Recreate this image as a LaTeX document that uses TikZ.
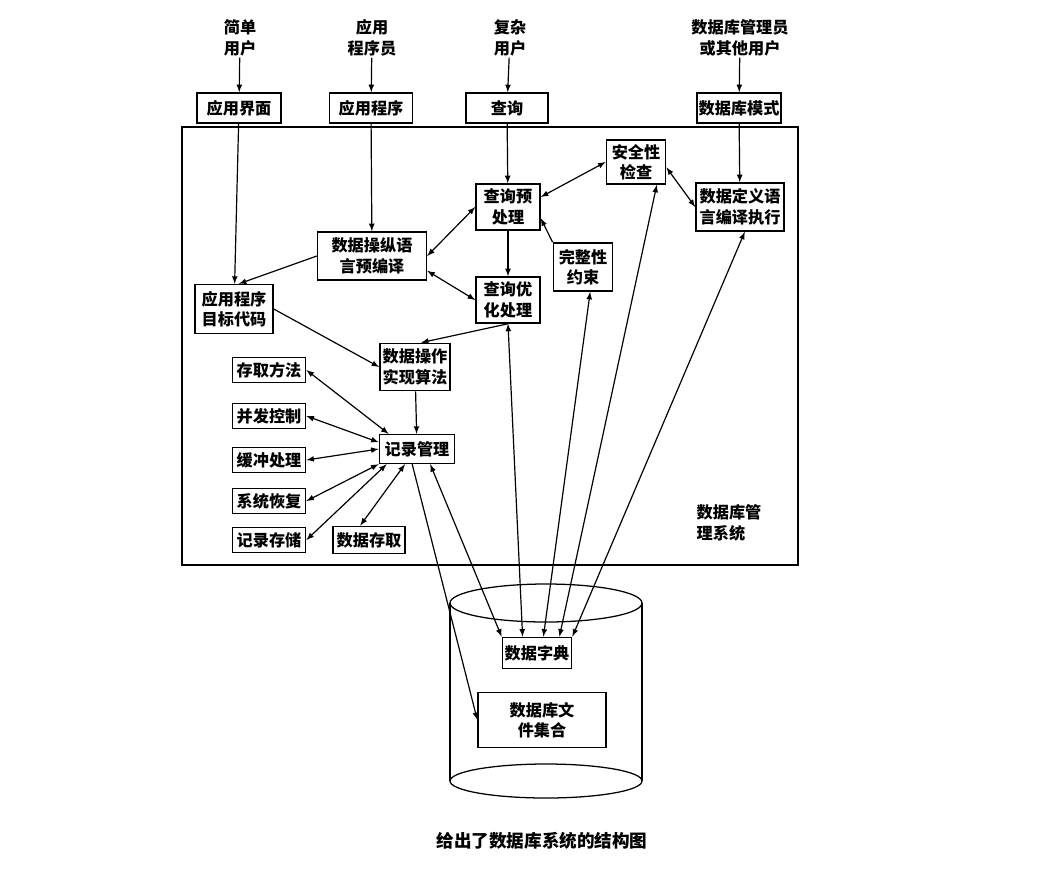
\documentclass[tikz,border=0pt]{standalone}
\usepackage{fontspec}
\setmainfont{Noto Sans CJK SC}
\usepackage{tikz}
\usetikzlibrary{arrows}

\begin{document}
\begin{tikzpicture}[x=0.025cm,y=-0.025cm,>=latex,
  txt/.style={font=\bfseries\fontsize{11.5}{14.5}\selectfont,align=center,inner sep=1pt},
  box/.style={txt,draw=black,line width=1.1pt},
  link/.style={line width=0.85pt},
  wh/.style n args={2}{minimum width=#1cm,minimum height=#2cm}]
\useasboundingbox (0,0) rectangle (1038,871);
\node[txt] (u1) at (240,38) {简单\\用户};
\node[txt] (u2) at (372,38) {应用\\程序员};
\node[txt] (u3) at (510,38) {复杂\\用户};
\node[txt] (u4) at (740,38) {数据库管理员\\或其他用户};
\node[box,wh={2.1}{0.75}] (jiemian) at (239,108) {应用界面};
\node[box,wh={2.08}{0.75}] (chengxu) at (371,108) {应用程序};
\node[box,wh={2.05}{0.75}] (chaxun) at (507,108) {查询};
\node[box,wh={2.1}{0.75}] (moshi) at (739,108) {数据库模式};
\draw[line width=1pt] (182,127) rectangle (798,565);
\node[box,wh={1.48}{1.1}] (anquan) at (636,162) {安全性\\检查};
\node[box,wh={2.2}{1.2}] (ddl) at (740,207) {数据定义语\\言编译执行};
\node[box,wh={1.6}{1.15}] (yuchuli) at (508,207) {查询预\\处理};
\node[box,wh={2.72}{1.2}] (dml) at (372,256) {数据操纵语\\言预编译};
\node[box,wh={1.48}{1.2}] (wanzheng) at (583,267) {完整性\\约束};
\node[box,wh={1.95}{1.22}] (mubiao) at (234,309) {应用程序\\目标代码};
\node[box,wh={1.6}{1.15}] (youhua) at (508,300) {查询优\\化处理};
\node[box,wh={1.75}{1.18}] (suanfa) at (415,367) {数据操作\\实现算法};
\node[box,wh={1.83}{0.63}] (cunqu) at (269,370) {存取方法};
\node[box,wh={1.83}{0.63}] (bingfa) at (269,416) {并发控制};
\node[box,wh={1.83}{0.63}] (huanchong) at (269,460) {缓冲处理};
\node[box,wh={1.83}{0.63}] (huifu) at (269,501) {系统恢复};
\node[box,wh={1.83}{0.63}] (cunchu) at (269,540) {记录存储};
\node[box,wh={1.8}{0.68}] (shujucunqu) at (369,540) {数据存取};
\node[box,wh={1.88}{0.72}] (jilu) at (417,449) {记录管理};
\node[txt,align=left,anchor=west] (dbms) at (695,523) {数据库管\\理系统};
\draw[line width=0.9pt] (546,603) ellipse [x radius=96,y radius=19];
\draw[line width=0.9pt] (546,781) ellipse [x radius=96,y radius=17];
\draw[line width=0.9pt] (450,603) -- (450,781) (642,603) -- (642,781);
\node[box,wh={1.73}{0.78}] (zidian) at (537,653) {数据字典};
\node[box,wh={3.2}{1.38},line width=0.9pt] (wenjian) at (542,720) {数据库文\\件集合};
\node[txt,font=\bfseries\fontsize{12.5}{15}\selectfont] (caption) at (542,841) {给出了数据库系统的结构图};
\draw[link,->] (u1) -- (jiemian);
\draw[link,->] (u2) -- (chengxu);
\draw[link,->] (u3) -- (chaxun);
\draw[link,->] (u4) -- (moshi);
\draw[link,->] (jiemian) -- (mubiao);
\draw[link,->] (chengxu) -- (dml);
\draw[link,->] (chaxun) -- (yuchuli);
\draw[link,->] (moshi) -- (ddl);
\draw[link,->] (dml.west) -- ([xshift=0.12cm]mubiao.north);
\draw[link,<->] (dml.east) -- (yuchuli.west);
\draw[link,<->] (dml.-15) -- (youhua.west);
\draw[link,->] (yuchuli) -- (youhua);
\draw[link,<->] (yuchuli.17) -- (anquan.west);
\draw[link,->] (wanzheng.north west) -- (yuchuli.-19);
\draw[link,<->] (anquan.-10) -- (ddl.west);
\draw[link,->] (mubiao.east) -- (suanfa.west);
\draw[link,->] (youhua.south) -- ([xshift=0.15cm]suanfa.north);
\draw[link,->] (suanfa) -- (jilu);
\draw[link,<->] (cunqu.east) -- ([xshift=0.25cm]jilu.north west);
\draw[link,<->] (bingfa.east) -- (jilu.170);
\draw[link,<->] (huanchong.east) -- (jilu.west);
\draw[link,<->] (huifu.east) -- (jilu.south west);
\draw[link,<->] (cunchu.east) -- ([xshift=0.2cm]jilu.south west);
\draw[link,<->] ([xshift=-0.22cm]shujucunqu.north) -- ([xshift=-0.3cm]jilu.south);
\draw[link,<->] ([xshift=0.33cm]jilu.south) -- (zidian.north west);
\draw[link,->] ([xshift=-0.12cm]jilu.south) -- (wenjian.west);
\draw[link,<->] (youhua.south) -- ([xshift=-0.36cm]zidian.north);
\draw[link,<->] ([xshift=0.18cm]wanzheng.south) -- ([xshift=0.16cm]zidian.north);
\draw[link,<->] ([xshift=0.52cm]anquan.south) -- ([xshift=0.56cm]zidian.north);
\draw[link,<->] ([xshift=0.12cm]ddl.south) -- (zidian.north east);
\end{tikzpicture}
\end{document}
